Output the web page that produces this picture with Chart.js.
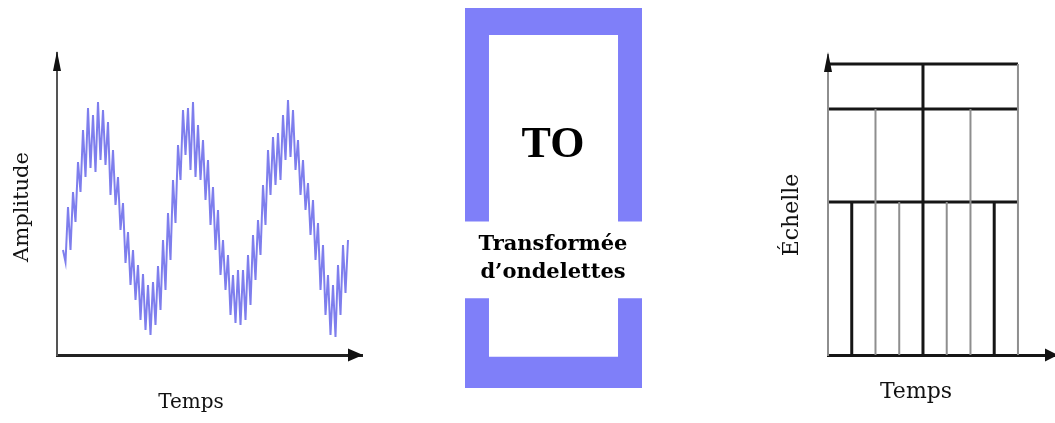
<!DOCTYPE html>
<html lang="fr">
<head>
<meta charset="utf-8">
<script src="https://cdn.jsdelivr.net/npm/chart.js@4.4.1/dist/chart.umd.min.js"></script>
<style>
html,body{margin:0;padding:0;background:#fff;width:1055px;height:423px;overflow:hidden;}
canvas{position:absolute;}
#signal{left:0;top:0;}
#to{left:465px;top:8px;}
#pavage{left:760px;top:0;}
</style>
</head>
<body>
<canvas id="signal" width="375" height="423"></canvas>
<canvas id="to" width="177" height="380"></canvas>
<canvas id="pavage" width="295" height="423"></canvas>
<script>
// ---- Panneau 1 : signal bruité (amplitude, échantillons successifs dans le temps)
const amplitude = [
  -0.32,-0.44,0.11,-0.32,0.26,-0.04,0.56,0.26,0.88,0.41,
  1.10,0.50,1.03,0.46,1.16,0.58,1.08,0.53,0.96,0.23,
  0.68,0.13,0.41,-0.12,0.15,-0.45,-0.14,-0.67,-0.32,-0.82,
  -0.47,-1.02,-0.56,-1.12,-0.67,-1.17,-0.64,-1.07,-0.48,-0.92,
  -0.22,-0.72,0.05,-0.42,0.38,-0.05,0.73,0.38,1.08,0.63,
  1.10,0.48,1.16,0.41,0.93,0.38,0.78,0.18,0.58,-0.07,
  0.31,-0.32,0.08,-0.57,-0.22,-0.72,-0.37,-0.97,-0.57,-1.05,
  -0.52,-1.07,-0.52,-1.02,-0.37,-0.87,-0.17,-0.62,-0.02,-0.37,
  0.33,-0.07,0.68,0.23,0.81,0.33,0.85,0.38,1.03,0.58,
  1.18,0.61,1.08,0.48,0.78,0.23,0.58,0.08,0.35,-0.17,
  0.18,-0.42,-0.05,-0.72,-0.27,-0.97,-0.57,-1.17,-0.67,-1.19,
  -0.47,-0.97,-0.27,-0.75,-0.22
];
const etiquetteTemps = 'Temps';
const etiquetteAmplitude = 'Amplitude';

// ---- Panneau 2 : bloc "TO"
const titreBoite = 'TO';
const legendeBoite = ['Transformée', 'd’ondelettes'];
const cadreBoite = [0, 1];
const interieurBoite = [0.082, 0.929];
const bandeTexte = [0.237, 0.437];

// ---- Panneau 3 : pavage temps-échelle
const etiquetteEchelle = 'Échelle';
const instantsTemps = [0, 1, 2, 3, 4, 5, 6, 7, 8];
const hauteurVerticales = [9.7, 5.1, 8.2, 5.1, 9.7, 5.1, 8.2, 5.1, 9.7];
const niveauxEchelle = [5.1, 8.2, 9.7];

// ---- Plugins
const fleches = {
  id: 'fleches',
  afterDraw(chart, args, o) {
    const {ctx, chartArea: a} = chart;
    ctx.save();
    ctx.fillStyle = o.couleur;
    ctx.beginPath();
    ctx.moveTo(a.left, o.pointeY);
    ctx.lineTo(a.left - o.demiY, o.pointeY + o.longY);
    ctx.lineTo(a.left + o.demiY, o.pointeY + o.longY);
    ctx.closePath();
    ctx.fill();
    ctx.beginPath();
    ctx.moveTo(o.pointeX, a.bottom);
    ctx.lineTo(o.pointeX - o.longX, a.bottom - o.demiX);
    ctx.lineTo(o.pointeX - o.longX, a.bottom + o.demiX);
    ctx.closePath();
    ctx.fill();
    ctx.restore();
  }
};
const textes = {
  id: 'textes',
  afterDraw(chart, args, o) {
    const ctx = chart.ctx;
    (o.items || []).forEach(t => {
      ctx.save();
      ctx.translate(t.x, t.y);
      if (t.rot) ctx.rotate(t.rot);
      ctx.font = t.font;
      ctx.fillStyle = t.color || '#111';
      ctx.textAlign = 'center';
      ctx.textBaseline = t.base || 'alphabetic';
      ctx.fillText(t.text, 0, 0);
      ctx.restore();
    });
  }
};

const common = {
  responsive: false,
  animation: false,
  events: []
};

// ---- Chart 1
new Chart(document.getElementById('signal'), {
  type: 'line',
  data: {
    datasets: [{
      data: amplitude.map((v, i) => ({x: i, y: v})),
      borderColor: 'rgba(40,40,225,0.6)',
      borderWidth: 2,
      pointRadius: 0,
      tension: 0,
      clip: false
    }]
  },
  options: Object.assign({}, common, {
    layout: {padding: {top: 53, right: 13, bottom: 0, left: 0}},
    scales: {
      x: {type: 'linear', min: -2.4, max: 119.6,
          grid: {display: false}, ticks: {display: false},
          border: {display: true, color: '#222', width: 3},
          afterFit(s) { s.height = 68; }},
      y: {type: 'linear', min: -1.37, max: 1.65,
          grid: {display: false}, ticks: {display: false},
          border: {display: true, color: '#555', width: 2},
          afterFit(s) { s.width = 57; }}
    },
    plugins: {
      legend: {display: false}, tooltip: {enabled: false},
      fleches: {couleur: '#111', pointeY: 51, longY: 20, demiY: 4, pointeX: 363, longX: 15, demiX: 6.5},
      textes: {items: [
        {text: etiquetteTemps, x: 191, y: 408, font: '20px "DejaVu Serif"'},
        {text: etiquetteAmplitude, x: 23, y: 207, rot: -Math.PI / 2, base: 'middle', font: '21px "DejaVu Serif"'}
      ]}
    }
  }),
  plugins: [fleches, textes]
});

// ---- Chart 2
new Chart(document.getElementById('to'), {
  type: 'bar',
  data: {
    labels: [titreBoite],
    datasets: [
      {data: [cadreBoite], backgroundColor: '#7f7ff9', barPercentage: 1, categoryPercentage: 1, grouped: false, order: 3},
      {data: [interieurBoite], backgroundColor: '#ffffff', barPercentage: 0.729, categoryPercentage: 1, grouped: false, order: 2},
      {data: [bandeTexte], backgroundColor: '#ffffff', barPercentage: 1, categoryPercentage: 1, grouped: false, order: 1}
    ]
  },
  options: Object.assign({}, common, {
    layout: {padding: 0},
    scales: {
      x: {display: false},
      y: {display: false, min: 0, max: 1}
    },
    plugins: {
      legend: {display: false}, tooltip: {enabled: false},
      textes: {items: [
        {text: titreBoite, x: 88, y: 149, font: 'bold 44px "Liberation Serif"', color: '#000'},
        {text: legendeBoite[0], x: 88, y: 242, font: 'bold 21px "DejaVu Serif"', color: '#000'},
        {text: legendeBoite[1], x: 88, y: 270, font: 'bold 21px "DejaVu Serif"', color: '#000'}
      ]}
    }
  }),
  plugins: [textes]
});

// ---- Chart 3
const dsPavage = [];
instantsTemps.forEach((t, k) => {
  const epais = k % 3 === 1;
  dsPavage.push({
    data: [{x: t, y: 0}, {x: t, y: hauteurVerticales[k]}],
    borderColor: epais ? '#161616' : '#8e8e8e',
    borderWidth: epais ? 3 : 2,
    pointRadius: 0, clip: false
  });
});
niveauxEchelle.forEach(n => {
  dsPavage.push({
    data: [{x: instantsTemps[0], y: n}, {x: instantsTemps[instantsTemps.length - 1], y: n}],
    borderColor: '#161616', borderWidth: 3, pointRadius: 0, clip: false
  });
});

new Chart(document.getElementById('pavage'), {
  type: 'line',
  data: {datasets: dsPavage},
  options: Object.assign({}, common, {
    layout: {padding: {top: 55, right: 0, bottom: 0, left: 0}},
    scales: {
      x: {type: 'linear', min: 0, max: 9.56,
          grid: {display: false}, ticks: {display: false},
          border: {display: true, color: '#161616', width: 3},
          afterFit(s) { s.height = 68; }},
      y: {type: 'linear', min: 0, max: 10,
          grid: {display: false}, ticks: {display: false},
          border: {display: true, color: '#8e8e8e', width: 2},
          afterFit(s) { s.width = 68; }}
    },
    plugins: {
      legend: {display: false}, tooltip: {enabled: false},
      fleches: {couleur: '#111', pointeY: 52, longY: 20, demiY: 4, pointeX: 298, longX: 13, demiX: 6.5},
      textes: {items: [
        {text: etiquetteTemps, x: 156, y: 398, font: '22px "DejaVu Serif"'},
        {text: etiquetteEchelle, x: 32, y: 215, rot: -Math.PI / 2, base: 'middle', font: '22px "DejaVu Serif"'}
      ]}
    }
  }),
  plugins: [fleches, textes]
});
</script>
</body>
</html>
